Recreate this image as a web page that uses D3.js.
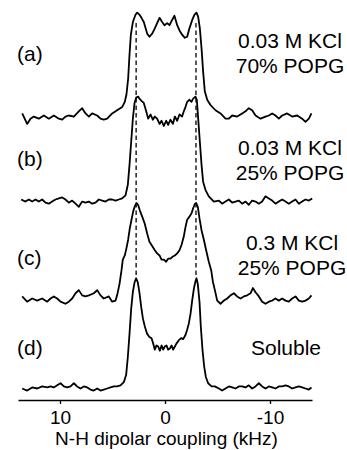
<!DOCTYPE html>
<html>
<head>
<meta charset="utf-8">
<script src="https://cdn.jsdelivr.net/npm/d3@7"></script>
<style>
body { margin: 0; background: #fff; }
svg text { font-family: "Liberation Sans", Arial, sans-serif; fill: #000; }
</style>
</head>
<body>
<div id="chart"></div>
<script>
// panel labels and sample conditions
const panelLabels = ["(a)", "(b)", "(c)", "(d)"];
const conditions = [
    ["0.03 M KCl", "70% POPG"],
    ["0.03 M KCl", "25% POPG"],
    ["0.3 M KCl", "25% POPG"],
    ["Soluble"]
];
const xTicks = [10, 0, -10];
const peakSplitting = [2.75, -2.95];   // kHz, dashed guides

// spectra: [coupling (kHz), normalized intensity]
const specA = [
[13.60,0.04],[13.13,-0.06],[12.81,-0.01],[12.49,0.01],[12.02,-0.01],[11.54,0.02],[11.06,-0.01],[10.59,0.02],[10.11,-0.01],[9.79,-0.02],
[9.48,0.01],[9.16,0.02],[8.68,0.01],[8.21,0.06],[7.89,0.09],[7.57,0.04],[7.25,0.01],[6.94,0.04],[6.46,0.02],[6.14,-0.01],
[5.83,-0.02],[5.51,-0.01],[5.03,0.04],[4.56,0.07],[4.08,0.10],[3.83,0.15],[3.67,0.22],[3.51,0.37],[3.38,0.60],[3.25,0.79],
[3.06,0.91],[2.81,0.98],[2.65,1.00],[2.43,0.98],[2.24,0.95],[2.02,0.91],[1.70,0.80],[1.48,0.77],[1.22,0.80],[0.97,0.85],
[0.75,0.90],[0.52,0.95],[0.27,0.91],[0.05,0.88],[-0.21,0.90],[-0.43,0.88],[-0.68,0.93],[-0.90,0.97],[-1.16,0.88],[-1.38,0.83],
[-1.63,0.79],[-1.89,0.76],[-2.11,0.77],[-2.33,0.85],[-2.59,0.93],[-2.81,0.98],[-3.00,1.00],[-3.16,0.96],[-3.32,0.85],[-3.48,0.66],
[-3.63,0.44],[-3.79,0.25],[-4.02,0.17],[-4.33,0.12],[-4.81,0.07],[-5.29,0.04],[-5.76,-0.01],[-6.08,-0.01],[-6.40,0.02],[-6.87,0.01],
[-7.35,0.04],[-7.67,0.06],[-7.98,0.09],[-8.30,0.07],[-8.62,0.02],[-9.10,-0.01],[-9.57,0.01],[-9.89,0.02],[-10.21,0.04],[-10.52,0.02],
[-10.84,-0.01],[-11.16,0.02],[-11.63,0.04],[-12.11,0.01],[-12.59,0.02],[-13.06,-0.01],[-13.38,-0.04],[-13.70,-0.01],[-13.95,0.04]
];
const specB = [
[13.70,0.02],[13.29,0.00],[12.97,0.02],[12.65,0.00],[12.33,0.02],[12.02,0.00],[11.70,0.02],[11.38,-0.01],[11.06,-0.02],[10.75,0.00],
[10.43,0.02],[10.11,0.03],[9.79,0.04],[9.48,0.02],[9.16,-0.01],[8.84,0.01],[8.52,-0.02],[8.21,-0.05],[7.89,0.00],[7.57,-0.01],
[7.25,0.00],[6.94,-0.02],[6.62,-0.01],[6.30,0.02],[5.98,0.01],[5.67,0.00],[5.35,0.02],[5.03,0.02],[4.71,0.01],[4.40,0.02],
[4.08,0.03],[3.76,0.06],[3.54,0.16],[3.38,0.35],[3.22,0.57],[3.06,0.79],[2.90,0.94],[2.75,0.99],[2.56,1.00],[2.43,0.98],
[2.24,0.96],[2.02,0.94],[1.79,0.86],[1.60,0.79],[1.38,0.83],[1.16,0.78],[0.97,0.81],[0.75,0.79],[0.52,0.74],[0.33,0.77],
[0.11,0.72],[-0.11,0.77],[-0.30,0.73],[-0.52,0.78],[-0.75,0.74],[-0.94,0.81],[-1.16,0.77],[-1.38,0.83],[-1.63,0.81],[-1.79,0.86],
[-1.95,0.90],[-2.11,0.95],[-2.33,0.97],[-2.52,0.95],[-2.68,0.98],[-2.90,1.00],[-3.03,0.97],[-3.16,0.79],[-3.32,0.57],[-3.48,0.35],
[-3.63,0.19],[-3.86,0.11],[-4.17,0.05],[-4.65,0.00],[-5.13,0.01],[-5.44,-0.02],[-5.76,0.00],[-6.08,0.02],[-6.40,-0.01],[-6.71,0.00],
[-7.03,0.01],[-7.35,-0.02],[-7.67,0.00],[-7.98,-0.03],[-8.30,0.01],[-8.62,0.00],[-8.94,-0.02],[-9.25,0.00],[-9.57,0.05],[-9.89,0.03],
[-10.21,0.01],[-10.52,-0.02],[-10.84,0.00],[-11.16,0.02],[-11.48,0.00],[-11.79,-0.02],[-12.11,0.00],[-12.43,0.02],[-12.75,-0.02],[-13.06,0.00],
[-13.38,0.02],[-13.70,0.01],[-14.02,0.03]
];
const specC = [
[13.60,0.02],[13.13,-0.03],[12.65,0.00],[12.17,-0.02],[11.70,0.00],[11.22,-0.03],[10.90,0.00],[10.59,0.02],[10.27,0.00],[9.95,-0.03],
[9.48,-0.05],[9.16,-0.03],[8.84,0.00],[8.52,0.05],[8.21,0.08],[7.89,0.03],[7.57,0.02],[7.25,0.03],[6.78,0.05],[6.46,0.08],
[6.14,0.03],[5.83,0.00],[5.35,0.02],[5.03,-0.03],[4.71,-0.02],[4.56,0.03],[4.33,0.14],[4.14,0.27],[4.02,0.37],[3.83,0.41],
[3.67,0.48],[3.51,0.56],[3.35,0.67],[3.19,0.75],[3.03,0.83],[2.87,0.88],[2.71,0.91],[2.56,0.89],[2.40,0.84],[2.17,0.78],
[1.92,0.71],[1.70,0.62],[1.48,0.54],[1.22,0.50],[0.97,0.46],[0.75,0.43],[0.52,0.41],[0.33,0.37],[0.11,0.37],[-0.11,0.35],
[-0.30,0.38],[-0.52,0.38],[-0.75,0.40],[-0.94,0.41],[-1.16,0.43],[-1.38,0.46],[-1.57,0.51],[-1.79,0.59],[-1.95,0.68],[-2.11,0.75],
[-2.33,0.78],[-2.52,0.81],[-2.68,0.86],[-2.84,0.90],[-2.97,0.91],[-3.13,0.87],[-3.29,0.76],[-3.48,0.65],[-3.70,0.56],[-3.92,0.46],
[-4.17,0.35],[-4.40,0.27],[-4.56,0.16],[-4.75,0.08],[-4.97,-0.02],[-5.29,-0.05],[-5.60,-0.02],[-5.92,0.00],[-6.24,0.03],[-6.56,0.05],
[-6.87,0.02],[-7.19,0.00],[-7.51,0.02],[-7.83,0.03],[-8.14,0.05],[-8.37,0.10],[-8.62,0.06],[-8.94,0.02],[-9.25,-0.03],[-9.57,-0.05],
[-9.89,-0.03],[-10.21,-0.02],[-10.52,0.00],[-10.84,-0.02],[-11.16,0.00],[-11.48,-0.02],[-11.79,-0.03],[-12.11,0.00],[-12.43,0.02],[-12.75,-0.02],
[-13.06,-0.03],[-13.38,-0.02],[-13.70,0.00],[-13.95,0.03]
];
const specD = [
[13.60,0.00],[13.13,-0.02],[12.65,0.01],[12.17,0.00],[11.70,0.02],[11.22,0.01],[10.90,0.02],[10.59,0.01],[10.27,0.03],[9.95,0.05],
[9.63,0.02],[9.32,0.01],[9.00,0.02],[8.68,0.05],[8.37,0.02],[8.05,0.00],[7.73,0.02],[7.41,0.01],[7.10,-0.01],[6.78,-0.02],
[6.46,0.00],[6.14,-0.02],[5.83,-0.01],[5.51,0.00],[5.19,0.01],[4.87,0.02],[4.56,0.02],[4.24,0.03],[3.92,0.06],[3.70,0.13],
[3.54,0.30],[3.38,0.52],[3.22,0.76],[3.06,0.92],[2.90,1.01],[2.75,1.05],[2.59,1.01],[2.43,0.91],[2.27,0.78],[2.11,0.67],
[1.92,0.59],[1.70,0.52],[1.48,0.49],[1.29,0.48],[1.13,0.43],[0.97,0.37],[0.81,0.41],[0.65,0.40],[0.49,0.36],[0.33,0.41],
[0.17,0.37],[0.02,0.40],[-0.14,0.41],[-0.30,0.37],[-0.46,0.38],[-0.62,0.41],[-0.78,0.37],[-0.94,0.40],[-1.10,0.43],[-1.32,0.46],
[-1.54,0.48],[-1.73,0.47],[-1.95,0.51],[-2.11,0.56],[-2.27,0.62],[-2.43,0.71],[-2.59,0.84],[-2.75,0.95],[-2.90,1.02],[-3.00,1.05],
[-3.13,0.99],[-3.29,0.82],[-3.41,0.59],[-3.57,0.37],[-3.73,0.21],[-3.89,0.11],[-4.11,0.05],[-4.43,0.02],[-4.75,0.02],[-5.13,0.00],
[-5.44,-0.02],[-5.76,0.00],[-6.08,0.02],[-6.40,0.01],[-6.71,0.00],[-7.03,0.02],[-7.35,0.02],[-7.67,0.01],[-7.98,0.03],[-8.30,0.00],
[-8.62,0.02],[-8.94,0.05],[-9.25,0.02],[-9.57,0.00],[-9.89,0.02],[-10.21,0.01],[-10.52,0.00],[-10.84,0.02],[-11.16,0.02],[-11.48,0.03],
[-11.79,0.02],[-12.11,0.00],[-12.43,0.01],[-12.75,0.02],[-13.06,0.01],[-13.38,0.00],[-13.70,-0.01],[-13.95,0.01]
];
const spectra = [specA, specB, specC, specD];

// layout
const width = 347, height = 450;
const offsets = [2.58, 1.78, 0.857, 0];          // stacking of the traces, in intensity units
const labelY = [60.6, 165.6, 264.5, 355];
const condY = [[47.7, 72.7], [155, 180], [250, 275], [355]];
const condX = [290, 290, 292, 286];

const svg = d3.select("#chart")
    .append("svg")
    .attr("width", width)
    .attr("height", height)
    .attr("viewBox", [0, 0, width, height]);

const x = d3.scaleLinear().domain([14, -14]).range([18, 312]);
const y = d3.scaleLinear().domain([0, 1]).range([388.5, 283.5]);

// dashed guides through the horn peaks
svg.append("g")
    .selectAll("line")
    .data(peakSplitting)
    .join("line")
    .attr("x1", d => x(d))
    .attr("x2", d => x(d))
    .attr("y1", y(offsets[0] + 0.9))
    .attr("y2", y(1.07))
    .attr("stroke", "#000")
    .attr("stroke-width", 1.3)
    .attr("stroke-dasharray", "4.5,3");

const line = d3.line()
    .x(d => x(d[0]))
    .y(d => y(d[1]));

svg.append("g")
    .selectAll("path")
    .data(spectra.map((s, i) => s.map(p => [p[0], p[1] + offsets[i]])))
    .join("path")
    .attr("d", line)
    .attr("fill", "none")
    .attr("stroke", "#000")
    .attr("stroke-width", 1.8)
    .attr("stroke-linejoin", "round");

// axis
const axis = svg.append("g")
    .attr("transform", "translate(0,400)")
    .call(d3.axisBottom(x)
        .tickValues(xTicks)
        .tickSize(4)
        .tickSizeOuter(0)
        .tickPadding(7)
        .tickFormat(d => String(d)));
axis.select(".domain").attr("stroke-width", 1.5);
axis.selectAll(".tick line").attr("stroke-width", 1.3);
axis.selectAll("text")
    .attr("font-family", "Liberation Sans, Arial, sans-serif")
    .attr("font-size", 19);

svg.append("text")
    .attr("x", x(0) + 1.5)
    .attr("y", 445)
    .attr("text-anchor", "middle")
    .style("font-size", "19px")
    .text("N-H dipolar coupling (kHz)");

// panel letters
svg.append("g")
    .selectAll("text")
    .data(panelLabels)
    .join("text")
    .attr("x", 17)
    .attr("y", (d, i) => labelY[i])
    .style("font-size", "21px")
    .text(d => d);

// conditions
conditions.forEach((lines, i) => {
    svg.append("g")
        .selectAll("text")
        .data(lines)
        .join("text")
        .attr("x", condX[i])
        .attr("y", (d, j) => condY[i][j])
        .attr("text-anchor", "middle")
        .style("font-size", "21px")
        .text(d => d);
});
</script>
</body>
</html>
